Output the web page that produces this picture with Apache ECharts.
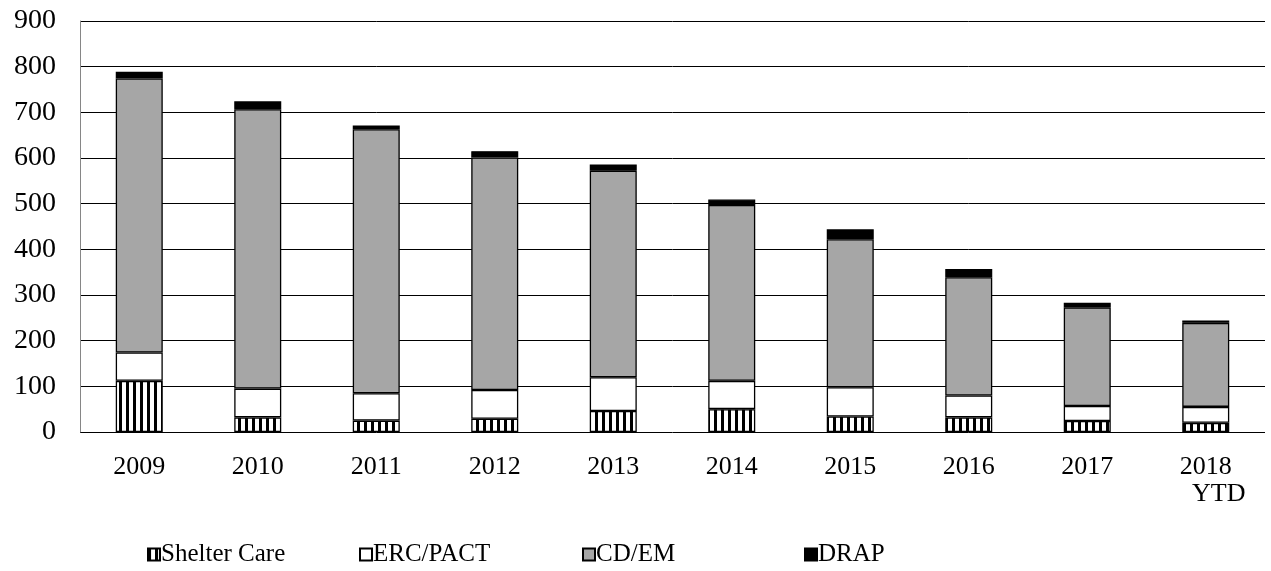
<!DOCTYPE html>
<html>
<head>
<meta charset="utf-8">
<script src="https://cdn.jsdelivr.net/npm/echarts@6/dist/echarts.min.js"></script>
<style>
  html, body { margin: 0; padding: 0; background: #fff; }
  #chart { width: 1271px; height: 571px; }
</style>
</head>
<body>
<div id="chart"></div>
<script>
// Caseload by program, per year (stacked)
var categories = ['2009', '2010', '2011', '2012', '2013', '2014', '2015', '2016', '2017', '2018\nYTD'];
var shelterCare = [112, 32, 25, 29, 46, 50, 34, 32, 24, 20];
var ercPact     = [62, 63, 60, 63, 74, 62, 64, 48, 33, 35];
var cdEm        = [600, 612, 578, 509, 452, 385, 324, 259, 216, 184];
var drap        = [15, 17, 8, 14, 14, 12, 22, 18, 10, 5];
var yTicks = [0, 100, 200, 300, 400, 500, 600, 700, 800, 900];

// Vertical-stripe fill for Shelter Care
function stripePattern() {
  var c = document.createElement('canvas');
  c.width = 7; c.height = 7;
  var ctx = c.getContext('2d');
  ctx.fillStyle = '#ffffff';
  ctx.fillRect(0, 0, 7, 7);
  ctx.fillStyle = '#000000';
  ctx.fillRect(0, 0, 3, 7);
  return { image: c, repeat: 'repeat' };
}

var FONT = '"Liberation Serif", "Times New Roman", serif';

var chart = echarts.init(document.getElementById('chart'), null, { renderer: 'canvas' });

function legendAt(name, left) {
  return {
    data: [name],
    left: left,
    top: 537,
    itemWidth: 12,
    itemHeight: 12,
    icon: 'rect',
    textStyle: { fontFamily: FONT, fontSize: 25, color: '#000', padding: [0, 0, 0, -4] }
  };
}

var barBase = { type: 'bar', stack: 'total', barWidth: 47 };

chart.setOption({
  animation: false,
  backgroundColor: '#ffffff',
  grid: { left: 80, right: 6, top: 21, bottom: 139, containLabel: false },
  legend: [
    legendAt('Shelter Care', 142),
    legendAt('ERC/PACT', 354),
    legendAt('CD/EM', 577),
    legendAt('DRAP', 799)
  ],
  xAxis: {
    type: 'category',
    data: categories,
    axisLine: { show: false },
    axisTick: { show: false },
    axisLabel: {
      fontFamily: FONT, fontSize: 26, color: '#000', margin: 22, lineHeight: 27,
      interval: 0,
      formatter: function (v) {
        var parts = v.split('\n');
        if (parts.length > 1) return parts[0] + '\n{r|' + parts[1] + '}';
        return v;
      },
      rich: { r: { fontFamily: FONT, fontSize: 26, color: '#000', lineHeight: 27, padding: [0, 0, 0, 26] } }
    }
  },
  yAxis: {
    type: 'value',
    min: yTicks[0],
    max: yTicks[yTicks.length - 1],
    interval: 100,
    axisLine: { show: true, lineStyle: { color: '#868686', width: 1 } },
    axisTick: { show: false },
    axisLabel: { fontFamily: FONT, fontSize: 28, color: '#000', margin: 24 },
    splitLine: { show: true, lineStyle: { color: '#000', width: 1 } }
  },
  series: [
    Object.assign({}, barBase, {
      name: 'Shelter Care', data: shelterCare,
      itemStyle: { color: stripePattern(), borderColor: '#000', borderWidth: 1.3 }
    }),
    Object.assign({}, barBase, {
      name: 'ERC/PACT', data: ercPact,
      itemStyle: { color: '#ffffff', borderColor: '#000', borderWidth: 1.3 }
    }),
    Object.assign({}, barBase, {
      name: 'CD/EM', data: cdEm,
      itemStyle: { color: '#a6a6a6', borderColor: '#000', borderWidth: 1.3 }
    }),
    Object.assign({}, barBase, {
      name: 'DRAP', data: drap,
      itemStyle: { color: '#000000', borderColor: '#000', borderWidth: 1.3 }
    })
  ]
});
</script>
</body>
</html>
